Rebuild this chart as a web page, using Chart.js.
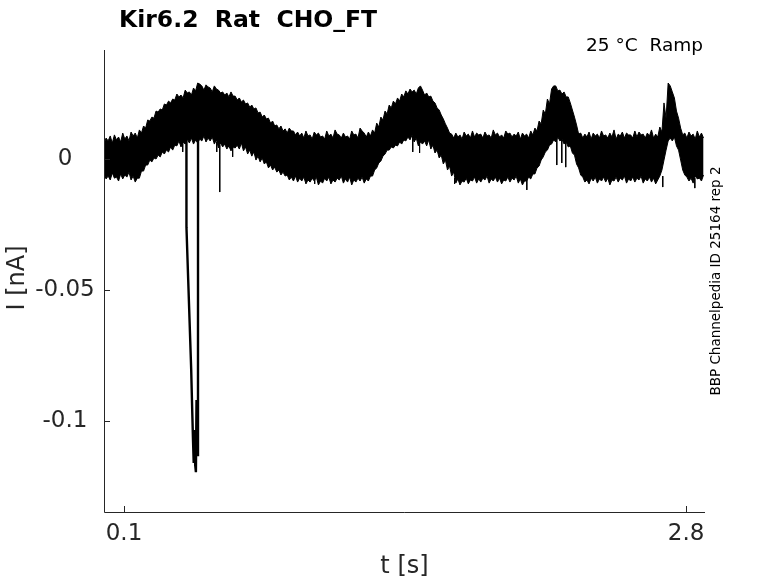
<!DOCTYPE html>
<html>
<head>
<meta charset="utf-8">
<script src="https://cdn.jsdelivr.net/npm/chart.js@4.4.1/dist/chart.umd.min.js"></script>
<style>
  html, body { margin: 0; padding: 0; background: #fff; }
  #wrap { width: 778px; height: 583px; }
</style>
</head>
<body>
<div id="wrap"><canvas id="c" width="778" height="583"></canvas></div>
<script>
// ---------- data ----------
// trace is sampled on a regular grid starting at T0, step DT (seconds)
const T0 = 0.004, DT = 0.02;

// upper edge of the noise band at the grid points [nA]
const upper = [
  0.0057, 0.0069, 0.0061, 0.0073, 0.0065, 0.0076, 0.0069, 0.0088, 0.0080, 0.0099,
  0.0118, 0.0145, 0.0156, 0.0179, 0.0187, 0.0206, 0.0214, 0.0225, 0.0237, 0.0233,
  0.0252, 0.0244, 0.0260, 0.0286, 0.0263, 0.0275, 0.0256, 0.0267, 0.0252, 0.0244,
  0.0237, 0.0240, 0.0225, 0.0218, 0.0210, 0.0198, 0.0191, 0.0176, 0.0160, 0.0153,
  0.0137, 0.0126, 0.0115, 0.0107, 0.0099, 0.0107, 0.0092, 0.0088, 0.0080, 0.0088,
  0.0076, 0.0092, 0.0084, 0.0076, 0.0088, 0.0080, 0.0095, 0.0080, 0.0084, 0.0076,
  0.0092, 0.0080, 0.0107, 0.0084, 0.0088, 0.0099, 0.0122, 0.0149, 0.0172, 0.0195,
  0.0210, 0.0221, 0.0237, 0.0248, 0.0256, 0.0248, 0.0279, 0.0244, 0.0237, 0.0221,
  0.0195, 0.0168, 0.0134, 0.0099, 0.0080, 0.0084, 0.0076, 0.0088, 0.0080, 0.0084,
  0.0092, 0.0080, 0.0088, 0.0080, 0.0092, 0.0084, 0.0080, 0.0095, 0.0084, 0.0088,
  0.0076, 0.0088, 0.0080, 0.0092, 0.0107, 0.0134, 0.0172, 0.0210, 0.0279, 0.0260,
  0.0248, 0.0237, 0.0214, 0.0160, 0.0095, 0.0080, 0.0084, 0.0076, 0.0088, 0.0080,
  0.0088, 0.0080, 0.0084, 0.0076, 0.0088, 0.0080, 0.0092, 0.0080, 0.0084, 0.0092,
  0.0080, 0.0088, 0.0080, 0.0084, 0.0103, 0.0156, 0.0279, 0.0233, 0.0156, 0.0092,
  0.0080, 0.0088, 0.0076, 0.0084, 0.0080
];
// upper noise tips, half a step after each grid point [nA]
const upperTips = [
  0.0080, 0.0088, 0.0092, 0.0084, 0.0099, 0.0088, 0.0103, 0.0099, 0.0111, 0.0126,
  0.0149, 0.0160, 0.0183, 0.0191, 0.0210, 0.0221, 0.0229, 0.0248, 0.0244, 0.0263,
  0.0256, 0.0271, 0.0290, 0.0279, 0.0283, 0.0271, 0.0279, 0.0263, 0.0256, 0.0252,
  0.0256, 0.0240, 0.0233, 0.0225, 0.0214, 0.0206, 0.0195, 0.0179, 0.0168, 0.0156,
  0.0145, 0.0130, 0.0126, 0.0115, 0.0118, 0.0107, 0.0103, 0.0099, 0.0107, 0.0092,
  0.0103, 0.0099, 0.0088, 0.0107, 0.0095, 0.0111, 0.0092, 0.0099, 0.0088, 0.0107,
  0.0095, 0.0118, 0.0099, 0.0103, 0.0111, 0.0137, 0.0160, 0.0183, 0.0206, 0.0221,
  0.0233, 0.0248, 0.0260, 0.0267, 0.0263, 0.0271, 0.0263, 0.0252, 0.0240, 0.0214,
  0.0187, 0.0153, 0.0118, 0.0095, 0.0099, 0.0092, 0.0103, 0.0095, 0.0107, 0.0099,
  0.0095, 0.0103, 0.0092, 0.0111, 0.0099, 0.0092, 0.0107, 0.0099, 0.0095, 0.0103,
  0.0099, 0.0095, 0.0107, 0.0118, 0.0145, 0.0187, 0.0229, 0.0267, 0.0279, 0.0263,
  0.0256, 0.0237, 0.0187, 0.0130, 0.0099, 0.0095, 0.0103, 0.0099, 0.0095, 0.0107,
  0.0092, 0.0099, 0.0111, 0.0095, 0.0103, 0.0099, 0.0092, 0.0107, 0.0103, 0.0095,
  0.0099, 0.0111, 0.0095, 0.0122, 0.0214, 0.0290, 0.0256, 0.0183, 0.0118, 0.0099,
  0.0103, 0.0095, 0.0107, 0.0099
];

// lower edge of the noise band at the grid points [nA]
const lower = [
  -0.0057, -0.0065, -0.0053, -0.0069, -0.0057, -0.0061, -0.0050, -0.0065, -0.0073, -0.0046,
  -0.0023, -0.0004,  0.0004,  0.0015,  0.0027,  0.0034,  0.0046,  0.0053,  0.0069,  0.0065,
   0.0076,  0.0080,  0.0073,  0.0076,  0.0088,  0.0080,  0.0084,  0.0073,  0.0061,  0.0057,
   0.0050,  0.0046,  0.0053,  0.0061,  0.0046,  0.0034,  0.0027,  0.0011,  0.0004, -0.0011,
  -0.0023, -0.0031, -0.0042, -0.0050, -0.0061, -0.0069, -0.0065, -0.0073, -0.0069, -0.0080,
  -0.0073, -0.0069, -0.0084, -0.0073, -0.0069, -0.0080, -0.0073, -0.0065, -0.0076, -0.0069,
  -0.0080, -0.0073, -0.0069, -0.0076, -0.0065, -0.0042, -0.0015,  0.0011,  0.0034,  0.0046,
   0.0053,  0.0065,  0.0073,  0.0084,  0.0092,  0.0080,  0.0065,  0.0069,  0.0073,  0.0053,
   0.0034,  0.0015, -0.0004, -0.0027, -0.0050, -0.0076, -0.0084, -0.0073, -0.0080, -0.0069,
  -0.0076, -0.0073, -0.0065, -0.0076, -0.0069, -0.0073, -0.0080, -0.0069, -0.0073, -0.0065,
  -0.0076, -0.0084, -0.0069, -0.0057, -0.0034, -0.0004,  0.0027,  0.0053,  0.0073,  0.0084,
   0.0076,  0.0065,  0.0050,  0.0015, -0.0034, -0.0069, -0.0080, -0.0073, -0.0069, -0.0076,
  -0.0069, -0.0073, -0.0080, -0.0069, -0.0073, -0.0065, -0.0076, -0.0069, -0.0073, -0.0065,
  -0.0076, -0.0069, -0.0073, -0.0080, -0.0042,  0.0034,  0.0080,  0.0084,  0.0034, -0.0042,
  -0.0069, -0.0073, -0.0065, -0.0073, -0.0061
];
// lower noise tips, half a step after each grid point [nA]
const lowerTips = [
  -0.0076, -0.0080, -0.0073, -0.0084, -0.0076, -0.0069, -0.0080, -0.0088, -0.0073, -0.0046,
  -0.0023, -0.0011,  0.0000,  0.0008,  0.0019,  0.0027,  0.0034,  0.0050,  0.0046,  0.0057,
   0.0061,  0.0057,  0.0061,  0.0069,  0.0065,  0.0069,  0.0057,  0.0042,  0.0046,  0.0038,
   0.0031,  0.0042,  0.0038,  0.0031,  0.0019,  0.0011, -0.0004, -0.0011, -0.0019, -0.0034,
  -0.0042, -0.0050, -0.0061, -0.0065, -0.0080, -0.0084, -0.0088, -0.0084, -0.0095, -0.0088,
  -0.0084, -0.0099, -0.0092, -0.0084, -0.0095, -0.0088, -0.0080, -0.0092, -0.0088, -0.0099,
  -0.0088, -0.0084, -0.0092, -0.0084, -0.0065, -0.0034, -0.0008,  0.0019,  0.0034,  0.0042,
   0.0050,  0.0057,  0.0069,  0.0073,  0.0065,  0.0050,  0.0057,  0.0050,  0.0038,  0.0023,
   0.0004, -0.0019, -0.0042, -0.0065, -0.0092, -0.0099, -0.0088, -0.0095, -0.0084, -0.0092,
  -0.0088, -0.0080, -0.0092, -0.0084, -0.0088, -0.0095, -0.0084, -0.0088, -0.0080, -0.0092,
  -0.0099, -0.0084, -0.0076, -0.0057, -0.0027,  0.0008,  0.0034,  0.0057,  0.0065,  0.0069,
   0.0057,  0.0046,  0.0023, -0.0019, -0.0061, -0.0088, -0.0095, -0.0084, -0.0092, -0.0084,
  -0.0088, -0.0099, -0.0084, -0.0088, -0.0080, -0.0092, -0.0084, -0.0088, -0.0080, -0.0092,
  -0.0084, -0.0088, -0.0095, -0.0065, -0.0004,  0.0069,  0.0069,  0.0050, -0.0004, -0.0061,
  -0.0084, -0.0092, -0.0076, -0.0084
];

// the big inward current transient near t = 0.4 s
const spikeT = [0.3999, 0.4001, 0.4037, 0.4085, 0.4133, 0.4181, 0.4229, 0.4277, 0.4316,
                0.4349, 0.4388, 0.4421, 0.4455, 0.4484, 0.4518, 0.4555, 0.4557];
const spikeI = [0.0111, -0.0260, -0.0347, -0.0462, -0.0576, -0.0691, -0.0805, -0.0958, -0.1073,
                -0.1160, -0.1034, -0.1168, -0.1195, -0.0920, -0.1130, -0.0844, 0.0111];

// single-sample glitches sticking out of the band
const dipT      = [0.382, 0.5455, 0.560, 0.622, 1.016, 1.487, 1.520, 1.688, 2.035, 2.179, 2.203, 2.222, 2.688, 2.842];
const dipTop    = [0.0065, 0.0065, 0.0053, 0.0046, -0.0073, 0.0088, 0.0073, -0.0073, -0.0073, 0.0080, 0.0076, 0.0065, -0.0065, -0.0073];
const dipBottom = [0.0027, 0.0027, -0.0126, 0.0008, -0.0095, 0.0027, 0.0023, -0.0095, -0.0118, -0.0023, -0.0015, -0.0031, -0.0107, -0.0111];

// axes
const X_MIN = 0.004, X_MAX = 2.891;
const Y_MIN = -0.1347, Y_MAX = 0.0416;
const xTicks = [0.1, 2.8];
const xTickLabels = ['0.1', '2.8'];
const yTicks = [0, -0.05, -0.1];
const yTickLabels = ['0', '-0.05', '-0.1'];

// ---------- helpers ----------
const AX = '#262626';
const FONT = '"DejaVu Sans", "Liberation Sans", sans-serif';

// grid points and tips merged into one edge line
function edge(grid, tips) {
  const out = [];
  grid.forEach((v, i) => {
    out.push({ x: T0 + i * DT, y: v });
    if (i < tips.length) out.push({ x: T0 + (i + 0.5) * DT, y: tips[i] });
  });
  return out;
}
const pts = (xs, ys) => xs.map((x, i) => ({ x, y: ys[i] }));

const dipPts = [];
dipT.forEach((t, i) => {
  dipPts.push({ x: t, y: dipTop[i] }, { x: t, y: dipBottom[i] }, { x: t, y: null });
});

// MATLAB-ish axes: inward ticks, left + bottom spines, free-standing texts
const matlabAxes = {
  id: 'matlabAxes',
  afterDatasetsDraw(chart) {
    const { ctx, chartArea: a, scales: { x, y } } = chart;
    ctx.save();
    ctx.strokeStyle = AX; ctx.lineWidth = 1;
    ctx.beginPath();
    ctx.moveTo(a.left + 0.5, a.top); ctx.lineTo(a.left + 0.5, a.bottom + 0.5);
    ctx.lineTo(a.right, a.bottom + 0.5);
    xTicks.forEach(v => { const px = Math.round(x.getPixelForValue(v)) + 0.5; ctx.moveTo(px, a.bottom); ctx.lineTo(px, a.bottom - 6); });
    yTicks.forEach(v => { const py = Math.round(y.getPixelForValue(v)) + 0.5; ctx.moveTo(a.left, py); ctx.lineTo(a.left + 6, py); });
    ctx.stroke();

    ctx.fillStyle = AX;
    ctx.font = '23px ' + FONT;
    ctx.textAlign = 'center'; ctx.textBaseline = 'middle';
    xTicks.forEach((v, i) => ctx.fillText(xTickLabels[i], x.getPixelForValue(v), a.bottom + 22));
    yTicks.forEach((v, i) => ctx.fillText(yTickLabels[i], a.left - 39, y.getPixelForValue(v)));

    ctx.font = '24px ' + FONT;
    ctx.fillText('t [s]', (a.left + a.right) / 2, 567);
    ctx.save(); ctx.translate(18, 278); ctx.rotate(-Math.PI / 2); ctx.fillText('I [nA]', 0, 0); ctx.restore();

    ctx.fillStyle = '#000';
    ctx.font = 'bold 23.5px ' + FONT;
    ctx.textAlign = 'left'; ctx.textBaseline = 'alphabetic';
    ctx.fillText('Kir6.2  Rat  CHO_FT', 119, 27);

    ctx.font = '18.5px ' + FONT;
    ctx.textAlign = 'right';
    ctx.fillText('25 °C  Ramp', 703, 51);

    ctx.font = '13.5px ' + FONT;
    ctx.textAlign = 'center'; ctx.textBaseline = 'middle';
    ctx.save(); ctx.translate(716, 281); ctx.rotate(-Math.PI / 2); ctx.fillText('BBP Channelpedia ID 25164 rep 2', 0, 0); ctx.restore();
    ctx.restore();
  }
};

const line = { borderColor: '#000', borderWidth: 1, pointRadius: 0, tension: 0 };

new Chart(document.getElementById('c'), {
  type: 'line',
  data: {
    datasets: [
      { ...line, label: 'upper', data: edge(upper, upperTips), fill: '+1', backgroundColor: '#000' },
      { ...line, label: 'lower', data: edge(lower, lowerTips), fill: false },
      { ...line, label: 'transient', data: pts(spikeT, spikeI), borderWidth: 2.4, fill: false },
      { ...line, label: 'glitches', data: dipPts, fill: false, spanGaps: false }
    ]
  },
  options: {
    responsive: false,
    animation: false,
    devicePixelRatio: 1,
    layout: { padding: { left: 104, right: 73, top: 50, bottom: 71 } },
    plugins: { legend: { display: false }, tooltip: { enabled: false } },
    scales: {
      x: { type: 'linear', min: X_MIN, max: X_MAX, display: false },
      y: { type: 'linear', min: Y_MIN, max: Y_MAX, display: false }
    }
  },
  plugins: [matlabAxes]
});
</script>
</body>
</html>
